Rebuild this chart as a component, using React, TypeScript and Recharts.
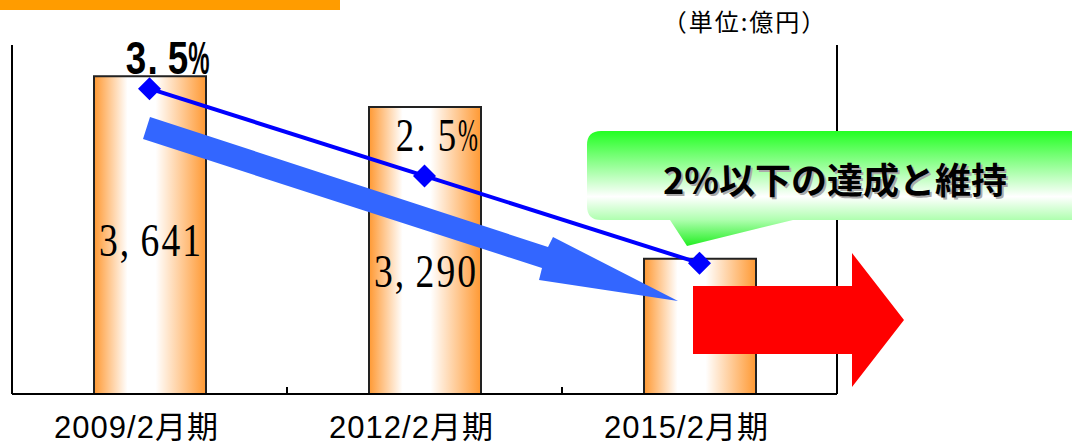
import { Bar, ComposedChart, LabelList, Line, XAxis, YAxis } from "recharts";

const periods = ["2009/2月期", "2012/2月期", "2015/2月期"];
const costs = [3641, 3290, 1550];
const costLabelled = [true, true, false];
const ratios = [3.5, 2.5, 1.5];
const ratioLabelled = [true, true, false];

const data = periods.map((name, i) => ({ name, cost: costs[i], ratio: ratios[i] }));

// label styling per point (not data)
const ratioLabelStyle = [
  { dx: 18, dy: -15, family: "'Liberation Sans', sans-serif", weight: 700 },
  { dx: 12, dy: -25, family: "'Liberation Serif', serif", weight: 400 },
];

const W = 1072;
const H = 444;

// fixed-pitch text, one glyph per cell, like a Mincho full-width font
function MonoText({ cx, y, text, cell, fontSize, family, weight = 400 }: any) {
  const chars = String(text).split("");
  const left = cx - (chars.length * cell) / 2;
  return (
    <g>
      {chars.map((ch: string, i: number) => {
        const punct = ch === "," || ch === ".";
        const sx = ch === "%" ? 0.52 : 0.8;
        const px = punct ? left + i * cell + 1 : left + i * cell + cell / 2;
        return (
          <text
            key={i}
            transform={`translate(${px} ${y}) scale(${sx} 1)`}
            textAnchor={punct ? "start" : "middle"}
            fontFamily={family}
            fontWeight={weight}
            fontSize={fontSize}
            fill="#000"
          >
            {ch}
          </text>
        );
      })}
    </g>
  );
}

function BarValue(props: any) {
  const { x, y, width, value, index } = props;
  if (!costLabelled[index]) return null;
  return (
    <MonoText
      cx={x + width / 2}
      y={y + 180}
      text={Number(value).toLocaleString("en-US")}
      cell={20.8}
      fontSize={47}
      family="'Liberation Serif', serif"
    />
  );
}

function RatioValue(props: any) {
  const { x, y, value, index } = props;
  if (!ratioLabelled[index]) return null;
  const s = ratioLabelStyle[index];
  return (
    <MonoText
      cx={x + s.dx}
      y={y + s.dy}
      text={`${Number(value).toFixed(1)}%`}
      cell={21}
      fontSize={46}
      family={s.family}
      weight={s.weight}
    />
  );
}

function Diamond(props: any) {
  const { cx, cy, index } = props;
  const r = 11.5;
  return (
    <path
      key={`d-${index}`}
      d={`M${cx} ${cy - r} L${cx + r} ${cy} L${cx} ${cy + r} L${cx - r} ${cy} Z`}
      fill="#0000ff"
    />
  );
}

// category label plus a short inward tick on the boundary to its right
function PeriodTick(props: any) {
  const { x, y, payload, index, visibleTicksCount, width } = props;
  const count = visibleTicksCount || periods.length;
  const half = (width || 825) / count / 2;
  return (
    <g>
      {index < count - 1 ? (
        <line x1={x + half} x2={x + half} y1={y} y2={y - 7} stroke="#000" strokeWidth={2} />
      ) : null}
      <text
        x={x - 13}
        y={y + 44}
        textAnchor="middle"
        fontFamily="'Liberation Sans', 'Noto Sans CJK JP', sans-serif"
        fontSize={31}
        letterSpacing={1}
        fill="#000"
      >
        {payload.value}
      </text>
    </g>
  );
}

export default function App() {
  return (
    <div
      style={{
        position: "absolute",
        left: 0,
        top: 0,
        width: W,
        height: H,
        background: "#fff",
        fontFamily: "'Noto Sans CJK JP', sans-serif",
      }}
    >
      <ComposedChart
        width={W}
        height={H}
        data={data}
        margin={{ top: 45, right: 234, bottom: 0, left: 11 }}
      >
        <defs>
          <linearGradient id="barFill" x1="0" y1="0" x2="1" y2="0">
            <stop offset="0%" stopColor="#ff9933" />
            <stop offset="30%" stopColor="#ffffff" />
            <stop offset="55%" stopColor="#ffffff" />
            <stop offset="100%" stopColor="#ff9933" />
          </linearGradient>
        </defs>
        <XAxis
          xAxisId="cat"
          dataKey="name"
          height={50}
          axisLine={{ stroke: "#000", strokeWidth: 2 }}
          tickLine={false}
          tickSize={0}
          tickMargin={0}
          interval={0}
          tick={<PeriodTick />}
        />
        <YAxis
          yAxisId="amt"
          domain={[0, 4000]}
          width={1}
          tick={false}
          tickLine={false}
          axisLine={{ stroke: "#000", strokeWidth: 2 }}
        />
        <YAxis
          yAxisId="pct"
          orientation="right"
          domain={[0, 4]}
          width={1}
          tick={false}
          tickLine={false}
          axisLine={{ stroke: "#000", strokeWidth: 2 }}
        />
        <Bar
          xAxisId="cat"
          yAxisId="amt"
          dataKey="cost"
          barSize={112}
          fill="url(#barFill)"
          stroke="#222"
          strokeWidth={2}
          isAnimationActive={false}
        >
          <LabelList dataKey="cost" content={<BarValue />} />
        </Bar>
        <Line
          xAxisId="cat"
          yAxisId="pct"
          dataKey="ratio"
          stroke="#0000ff"
          strokeWidth={4}
          dot={Diamond}
          activeDot={false}
          isAnimationActive={false}
        >
          <LabelList dataKey="ratio" content={<RatioValue />} />
        </Line>
      </ComposedChart>

      <svg
        width={W}
        height={H}
        style={{ position: "absolute", left: 0, top: 0, pointerEvents: "none" }}
      >
        <defs>
          <linearGradient id="callout" gradientUnits="userSpaceOnUse" x1="0" y1="131" x2="0" y2="246">
            <stop offset="0%" stopColor="#22ff22" />
            <stop offset="57%" stopColor="#ffffff" />
            <stop offset="77%" stopColor="#b0ffb0" />
            <stop offset="100%" stopColor="#22ee22" />
          </linearGradient>
        </defs>
        <rect x={0} y={0} width={340} height={10} fill="#ff9c00" />
        <text x={745} y={31} textAnchor="middle" fontSize={24} letterSpacing={2} fill="#000">
          （単位:億円）
        </text>
        <polygon
          points="150,117 548,247 553,237 678,301 539,280 542,268 143,139"
          fill="#3366ff"
        />
        <path
          d="M601 131 H1085 V220 H793 L687 246 L670 220 H601 Q587 220 587 206 V145 Q587 131 601 131 Z"
          fill="url(#callout)"
        />
        <text x={837} y={196} textAnchor="middle" fontSize={36} fontWeight={700} fill="#aaa">
          2%以下の達成と維持
        </text>
        <text x={835} y={194} textAnchor="middle" fontSize={36} fontWeight={700} fill="#000">
          2%以下の達成と維持
        </text>
        <polygon
          points="693,286 852,286 852,253 904,320 852,387 852,354 693,354"
          fill="#ff0000"
        />
      </svg>
    </div>
  );
}
